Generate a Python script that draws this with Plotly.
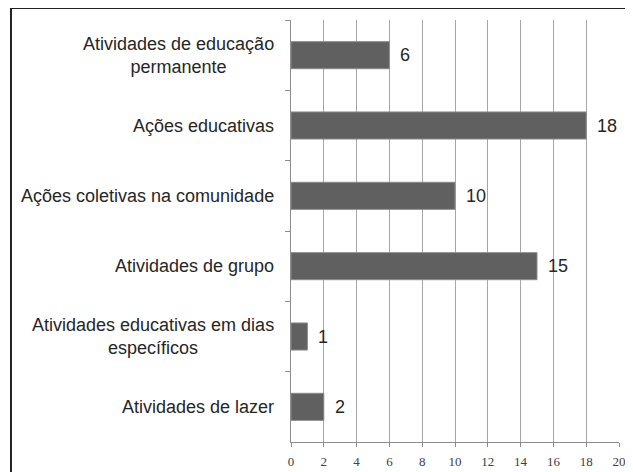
import plotly.graph_objects as go

categories = [
    "Atividades de educação<br>permanente",
    "Ações educativas",
    "Ações coletivas na comunidade",
    "Atividades de grupo",
    "Atividades educativas em dias<br>específicos",
    "Atividades de lazer",
]
values = [6, 18, 10, 15, 1, 2]
x_ticks = list(range(0, 21, 2))

fig = go.Figure()
fig.add_trace(go.Bar(
    x=values, y=categories, orientation="h",
    marker=dict(color="#606060", line=dict(color="#8c8c8c", width=1)),
    hoverinfo="skip",
))

annotations = []
for c in categories:
    annotations.append(dict(
        x=0, xref="paper", y=c, yref="y", text=c, showarrow=False,
        xanchor="right", yanchor="middle", align="center", xshift=-15,
        font=dict(family="Liberation Sans, Arial, sans-serif", size=18, color="#262626"),
    ))
for c, v in zip(categories, values):
    annotations.append(dict(
        x=v, xref="x", y=c, yref="y", text=str(v), showarrow=False,
        xanchor="left", yanchor="middle", xshift=9,
        font=dict(family="Liberation Sans, Arial, sans-serif", size=18, color="#262626"),
    ))

fig.update_layout(
    width=625, height=464,
    margin=dict(l=283, r=14, t=12, b=30, autoexpand=False),
    paper_bgcolor="white", plot_bgcolor="white",
    showlegend=False,
    bargap=0.615,
    annotations=annotations,
    shapes=[
        dict(type="line", xref="paper", yref="paper", x0=-0.8537, x1=1.2, y0=1.0284, y1=1.0284,
             line=dict(color="#222222", width=2)),
        dict(type="line", xref="paper", yref="paper", x0=-0.8537, x1=-0.8537, y0=1.0284, y1=-0.3,
             line=dict(color="#222222", width=2)),
    ],
    xaxis=dict(
        range=[0, 20], tickvals=x_ticks, ticktext=[str(t) for t in x_ticks],
        showgrid=True, gridcolor="#a6a6a6", gridwidth=1, zeroline=False,
        showline=True, linecolor="#8c8c8c", linewidth=1, automargin=False,
        ticks="outside", ticklen=4, tickcolor="#8c8c8c", ticklabelstandoff=3,
        tickfont=dict(family="Liberation Serif, Times New Roman, serif", size=13, color="#404040"),
        fixedrange=True,
    ),
    yaxis=dict(
        categoryorder="array", categoryarray=categories, autorange="reversed",
        showticklabels=False, tickson="boundaries", ticks="outside", ticklen=5,
        tickcolor="#8c8c8c", showgrid=False, showline=True, linecolor="#8c8c8c",
        linewidth=1, zeroline=False, fixedrange=True, automargin=False,
    ),
)

fig.write_html("out.html")
